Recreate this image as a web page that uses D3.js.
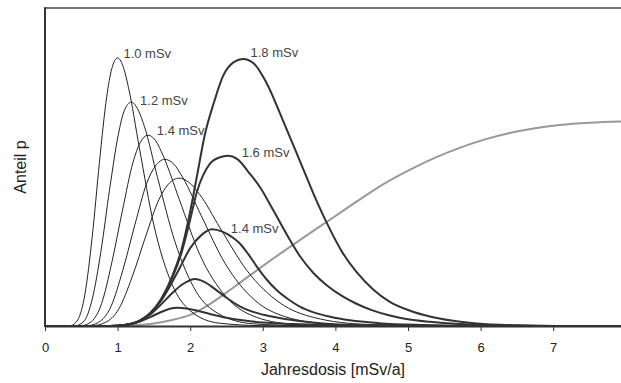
<!DOCTYPE html>
<html><head><meta charset="utf-8">
<script src="https://cdn.jsdelivr.net/npm/d3@7"></script>
<style>body{margin:0;background:#fff}svg{display:block}text{font-family:"Liberation Sans",Arial,sans-serif}</style>
</head><body><svg id="c" width="621" height="383"></svg>
<script>
// x: Jahresdosis [mSv/a], y: Anteil p (relative units, 0..100)
const tickLabels = [0,1,2,3,4,5,6,7];

// thin curves (1.0 ... 1.8 mSv)
const thin10 = [[0,0],[0.35,0.1],[0.45,1.9],[0.55,10.0],[0.65,28.0],[0.75,51.5],[0.85,72.1],[0.92,80.9],[1.0,84.3],[1.07,82.0],[1.15,75.0],[1.3,56.0],[1.5,31.7],[1.75,13.1],[2.0,4.8],[2.4,0.9],[3.0,0.1],[4.0,0],[7.95,0]];
const thin12 = [[0,0],[0.42,0.1],[0.54,1.6],[0.65,8.4],[0.77,23.4],[0.89,43.0],[1.01,60.2],[1.09,67.6],[1.19,70.4],[1.27,68.5],[1.37,62.7],[1.55,46.7],[1.79,26.5],[2.08,10.9],[2.38,4.0],[2.86,0.7],[3.57,0.1],[4.5,0],[7.95,0]];
const thin14 = [[0,0],[0.50,0.1],[0.64,1.4],[0.78,7.1],[0.92,19.9],[1.07,36.7],[1.21,51.3],[1.31,57.6],[1.42,60.0],[1.52,58.4],[1.63,53.4],[1.85,39.8],[2.13,22.6],[2.49,9.3],[2.84,3.4],[3.41,0.6],[4.26,0.05],[5.0,0],[7.95,0]];
const thin16 = [[0,0],[0.58,0.1],[0.74,1.2],[0.91,6.2],[1.07,17.4],[1.24,32.0],[1.40,44.8],[1.52,50.3],[1.65,52.4],[1.77,51.0],[1.90,46.6],[2.15,34.8],[2.48,19.7],[2.89,8.1],[3.30,3.0],[3.96,0.55],[4.95,0.05],[5.6,0],[7.95,0]];
const thin18 = [[0,0],[0.65,0.1],[0.83,1.1],[1.02,5.5],[1.20,15.4],[1.39,28.4],[1.57,39.8],[1.70,44.6],[1.85,46.5],[1.98,45.2],[2.13,41.4],[2.41,30.9],[2.78,17.5],[3.24,7.2],[3.70,2.7],[4.44,0.5],[5.55,0.04],[6.2,0],[7.95,0]];

// thick curves (1.0 ... 1.8 mSv)
const thick18 = [[0,0],[0.9,0],[1.1,0.3],[1.3,1.6],[1.45,4.1],[1.6,8.5],[1.75,15.5],[1.88,24],[2.0,36],[2.1,48],[2.2,60],[2.33,70.5],[2.45,78.5],[2.6,83],[2.73,84],[2.88,82.5],[3.05,76.5],[3.28,64.5],[3.5,52.5],[3.7,41.5],[3.88,32.5],[4.1,23],[4.29,17],[4.52,11.5],[4.75,7.6],[5.03,4.8],[5.3,3.0],[5.6,1.7],[5.95,0.8],[6.5,0.2],[7.0,0],[7.95,0]];
const thick16 = [[0,0],[0.9,0],[1.1,0.3],[1.3,1.6],[1.45,4.0],[1.6,8.3],[1.75,15],[1.88,23],[2.0,33.5],[2.09,42],[2.18,47.5],[2.27,51],[2.4,53],[2.52,53.5],[2.65,52.5],[2.8,48.5],[2.98,43],[3.1,38.2],[3.24,32.5],[3.37,27.2],[3.51,22],[3.7,16.6],[3.88,12.8],[4.1,9.3],[4.29,7.0],[4.5,5],[4.75,3.3],[5.0,2.1],[5.3,1.3],[5.7,0.6],[6.2,0.2],[7.0,0],[7.95,0]];
const thick14 = [[0,0],[0.9,0],[1.1,0.3],[1.3,1.6],[1.45,4],[1.6,8],[1.72,12.5],[1.85,18],[2.0,24.5],[2.15,28.5],[2.3,30.4],[2.45,29.6],[2.6,27.6],[2.69,25.8],[2.8,22.6],[2.92,18.6],[3.05,14.7],[3.19,11.3],[3.35,8.4],[3.51,6.1],[3.7,4.3],[3.93,2.9],[4.2,1.8],[4.6,0.9],[5.2,0.3],[6.0,0],[7.95,0]];
const thick12 = [[0,0],[0.9,0],[1.1,0.3],[1.3,1.5],[1.45,3.6],[1.6,6.8],[1.75,10.3],[1.9,13.2],[2.07,14.8],[2.2,13.8],[2.36,11.3],[2.5,8.9],[2.69,6.1],[2.9,4.2],[3.14,2.9],[3.45,1.7],[3.83,0.8],[4.3,0.3],[5.0,0.1],[6.0,0],[7.95,0]];
const thick10 = [[0,0],[0.9,0],[1.1,0.3],[1.3,1.3],[1.45,2.8],[1.6,4.4],[1.72,5.4],[1.82,5.7],[1.95,5.5],[2.1,4.8],[2.27,3.8],[2.5,2.6],[2.75,1.7],[3.0,1.1],[3.4,0.6],[4.0,0.25],[5.0,0.05],[6.0,0],[7.95,0]];

// grey cumulative curve
const cumul = [[0,0],[0.9,0],[1.2,0.2],[1.5,0.8],[1.75,1.9],[2.0,3.5],[2.27,6.9],[2.6,12.2],[3.05,19.7],[3.37,24.8],[3.6,28.4],[3.93,33.5],[4.29,39.1],[4.52,42.6],[4.75,45.8],[5.03,49.2],[5.4,53.2],[5.72,56.1],[6.05,58.6],[6.4,60.7],[6.75,62.2],[7.09,63.2],[7.5,63.9],[7.95,64.3]];

const curveLabels = ["1.0 mSv","1.2 mSv","1.4 mSv","1.8 mSv","1.6 mSv","1.4 mSv"];
const labelX = [1.08,1.31,1.54,2.83,2.71,2.56];
const labelY = [84.2,69.5,60.2,84.5,53.2,29.1];

const svg = d3.select("#c");
const W = 621, H = 383;
const m = {l:45, t:8, r:0, b:57};
const x = d3.scaleLinear().domain([0,7.934]).range([m.l, W]);
const y = d3.scaleLinear().domain([0,100]).range([H-m.b, m.t]);

svg.append("rect").attr("width",W).attr("height",H).attr("fill","#fff");
svg.append("clipPath").attr("id","clip").append("rect")
  .attr("x",m.l).attr("y",m.t-2).attr("width",W-m.l).attr("height",H-m.b-m.t+2);

const line = d3.line().x(d=>x(d[0])).y(d=>y(d[1])).curve(d3.curveMonotoneX);
const g = svg.append("g").attr("clip-path","url(#clip)");

g.append("path").datum(cumul).attr("d",line).attr("fill","none").attr("stroke","#999").attr("stroke-width",2);
[thin10,thin12,thin14,thin16,thin18].forEach(s=>{
  g.append("path").datum(s).attr("d",line).attr("fill","none").attr("stroke","#222").attr("stroke-width",1);
});
[thick10,thick12,thick14,thick16,thick18].forEach(s=>{
  g.append("path").datum(s).attr("d",line).attr("fill","none").attr("stroke","#333").attr("stroke-width",2);
});

// frame: top line and left axis
svg.append("line").attr("x1",m.l).attr("x2",W).attr("y1",m.t).attr("y2",m.t).attr("stroke","#444").attr("stroke-width",1.5);
svg.append("line").attr("x1",m.l).attr("x2",m.l).attr("y1",m.t-0.75).attr("y2",H-m.b+1).attr("stroke","#333").attr("stroke-width",2);

const ax = svg.append("g").attr("transform",`translate(0,${H-m.b})`)
  .call(d3.axisBottom(x).tickValues(tickLabels).tickSize(5).tickSizeOuter(0).tickFormat(d3.format("d")));
ax.select(".domain").attr("stroke","#333").attr("stroke-width",2);
ax.selectAll(".tick line").attr("stroke","#333");
ax.selectAll(".tick text").attr("y",25.5).attr("dy",null).attr("fill","#222")
  .style("font-size","13px").style("font-family","Liberation Sans, Arial, sans-serif");

svg.append("text").attr("x",(m.l+W)/2).attr("y",375).attr("text-anchor","middle")
  .attr("fill","#222").style("font-size","16px").text("Jahresdosis [mSv/a]");
svg.append("text").attr("transform",`translate(26,${(m.t+H-m.b)/2}) rotate(-90)`).attr("text-anchor","middle")
  .attr("fill","#222").style("font-size","16px").text("Anteil p");

curveLabels.forEach((t,i)=>{
  svg.append("text").attr("x",x(labelX[i])).attr("y",y(labelY[i]))
    .attr("fill","#444").style("font-size","13px").text(t);
});
</script></body></html>
